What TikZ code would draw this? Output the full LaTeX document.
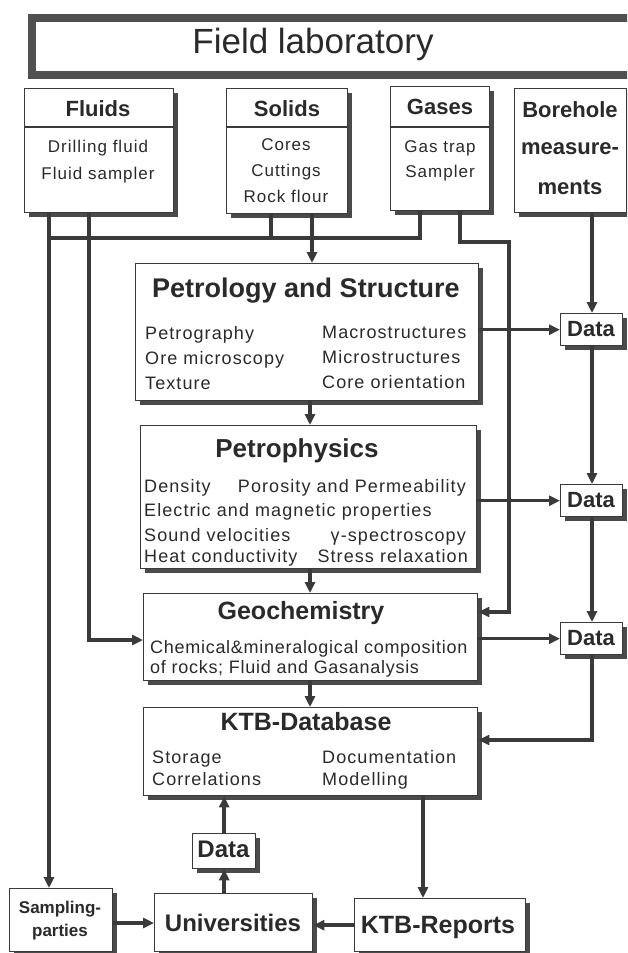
\documentclass[tikz,border=0pt]{standalone}
\usepackage{fontspec}
\setmainfont{Liberation Sans}
\newfontfamily\lsfont[LetterSpace=6]{Liberation Sans}
\newfontfamily\lsfontb[LetterSpace=4]{Liberation Sans}
\usetikzlibrary{arrows.meta,shadows,calc}
\definecolor{linec}{HTML}{3A3A3A}
\definecolor{textc}{HTML}{2A2A2A}
\definecolor{shadc}{HTML}{4A4A4A}
\definecolor{titlec}{HTML}{505050}
\begin{document}
\begin{tikzpicture}[x=1pt,y=-1pt,
  box/.style={draw=linec, line width=1.4pt, fill=white, rectangle, inner sep=0pt,
    anchor=north west, drop shadow={shadow xshift=4pt, shadow yshift=-4pt, fill=shadc, opacity=1}},
  conn/.style={draw=linec, line width=3.5pt},
  arr/.style={-{Triangle[length=11pt,width=10pt]}},
  hd/.style={font=\bfseries\fontsize{#1}{#1}\selectfont, text=textc, inner sep=0pt, anchor=base},
  itm/.style={font=\lsfont\fontsize{18}{20}\selectfont, text=textc, inner sep=0pt},
  itmb/.style={font=\lsfontb\fontsize{18}{20}\selectfont, text=textc, inner sep=0pt},
  itc/.style={font=\lsfont\fontsize{17}{20}\selectfont, text=textc, inner sep=0pt, anchor=base},
  divl/.style={draw=linec, line width=1.4pt}
]
\useasboundingbox (0,0) rectangle (627,953);
\clip (0,0) rectangle (627,953);
\fill[white] (0,0) rectangle (627,953);

% title
\node[draw=titlec, line width=8pt, fill=white, rectangle, anchor=north west, inner sep=0pt,
  minimum width=612pt, minimum height=57pt] (title) at (28,14) {};
\node[anchor=base, inner sep=0pt, text=textc, font=\fontsize{35}{40}\selectfont] (titletext) at (313,53) {Field laboratory};

% top boxes
\node[box, minimum width=149pt, minimum height=124pt] (fluids) at (24,88) {};
\node[box, minimum width=121pt, minimum height=125pt] (solids) at (226,88) {};
\node[box, minimum width=99pt, minimum height=124pt] (gases) at (390,86) {};
\node[box, minimum width=112pt, minimum height=124pt] (borehole) at (514,88) {};
\draw[divl] ($(fluids.north west)+(0,39)$) -- ($(fluids.north east)+(0,39)$);
\draw[divl] ($(solids.north west)+(0,39)$) -- ($(solids.north east)+(0,39)$);
\draw[divl] ($(gases.north west)+(0,41)$) -- ($(gases.north east)+(0,41)$);

\node[hd=22] (fluidsT) at (98,116) {Fluids};
\node[itc] (fl1) at (98,152) {Drilling fluid};
\node[itc] (fl2) at (98,179) {Fluid sampler};
\node[hd=22] (solidsT) at (287,116) {Solids};
\node[itc] (so1) at (286,150) {Cores};
\node[itc] (so2) at (286,176) {Cuttings};
\node[itc] (so3) at (286,202) {Rock flour};
\node[hd=22] (gasesT) at (440,114) {Gases};
\node[itc] (ga1) at (440,152) {Gas trap};
\node[itc] (ga2) at (440,177) {Sampler};
\node[hd=22] (bh1) at (570,117) {Borehole};
\node[hd=22] (bh2) at (570,154) {measure-};
\node[hd=22] (bh3) at (570,194) {ments};

% Petrology
\node[box, minimum width=343pt, minimum height=137pt] (petro) at (135,263) {};
\node[hd=27] (petroT) at (306,297) {Petrology and Structure};
\node[itm, anchor=base west] (p1) at (145,339) {Petrography};
\node[itm, anchor=base west] (p2) at (145,364) {Ore microscopy};
\node[itm, anchor=base west] (p3) at (145,389) {Texture};
\node[itm, anchor=base west] (p4) at (322,338) {Macrostructures};
\node[itm, anchor=base west] (p5) at (322,363) {Microstructures};
\node[itm, anchor=base west] (p6) at (322,388) {Core orientation};

% Petrophysics
\node[box, minimum width=336pt, minimum height=143pt] (phys) at (140,425) {};
\node[hd=26] (physT) at (297,457) {Petrophysics};
\node[itm, anchor=base west] (ph1) at (144,492) {Density};
\node[itm, anchor=base east] (ph2) at (466,492) {Porosity and Permeability};
\node[itm, anchor=base west] (ph3) at (144,516) {Electric and magnetic properties};
\node[itm, anchor=base west] (ph4) at (144,541) {Sound velocities};
\node[itm, anchor=base east] (ph5) at (466,541) {γ-spectroscopy};
\node[itm, anchor=base west] (ph6) at (144,562) {Heat conductivity};
\node[itm, anchor=base east] (ph7) at (468,562) {Stress relaxation};

% Geochemistry
\node[box, minimum width=334pt, minimum height=87pt] (geo) at (143,593) {};
\node[hd=25] (geoT) at (301,619) {Geochemistry};
\node[itmb, anchor=base west] (g1) at (150,653) {Chemical\&mineralogical composition};
\node[itmb, anchor=base west] (g2) at (150,673) {of rocks; Fluid and Gasanalysis};

% Database
\node[box, minimum width=334pt, minimum height=88pt] (db) at (143,707) {};
\node[hd=25] (dbT) at (306,730) {KTB-Database};
\node[itm, anchor=base west] (d1) at (152,763) {Storage};
\node[itm, anchor=base west] (d2) at (152,785) {Correlations};
\node[itm, anchor=base west] (d3) at (322,763) {Documentation};
\node[itm, anchor=base west] (d4) at (322,785) {Modelling};

% Data boxes
\node[box, minimum width=62pt, minimum height=32pt] (data1) at (560,313) {};
\node[hd=22] (data1T) at (591,336) {Data};
\node[box, minimum width=62pt, minimum height=32pt] (data2) at (560,484) {};
\node[hd=22] (data2T) at (591,507) {Data};
\node[box, minimum width=62pt, minimum height=32pt] (data3) at (560,622) {};
\node[hd=22] (data3T) at (591,645) {Data};
\node[box, minimum width=63pt, minimum height=35pt] (datau) at (192,833) {};
\node[hd=24] (datauT) at (223.5,857) {Data};

% bottom boxes
\node[box, minimum width=103pt, minimum height=63pt] (samp) at (9,888) {};
\node[hd=17] (samp1) at (60,913) {Sampling-};
\node[hd=17] (samp2) at (60,936) {parties};
\node[box, minimum width=158pt, minimum height=58pt] (univ) at (154,893) {};
\node[hd=24] (univT) at (233,931) {Universities};
\node[box, minimum width=171pt, minimum height=53pt] (rep) at (354,898) {};
\node[hd=25] (repT) at (438,933) {KTB-Reports};

% coordinates
\coordinate (xA) at (49,0);
\coordinate (xB) at (89,0);
\coordinate (xS1) at (271,0);
\coordinate (xS2) at (312,0);
\coordinate (xG1) at (420,0);
\coordinate (xG2) at (460,0);
\coordinate (xR) at (509,0);
\coordinate (xD) at (592,0);
\coordinate (xC) at (310,0);
\coordinate (xK) at (423,0);
\coordinate (yBus) at (0,238);
\coordinate (yG2) at (0,242);
\coordinate (yGeo) at (0,640);
\coordinate (yGeoR) at (0,612);
\coordinate (yDB) at (0,740);
\coordinate (ySU) at (0,923);

% connectors
\draw[conn,arr] (fluids.south -| xA) -- (samp.north -| xA);
\draw[conn,arr] (fluids.south -| xB) |- (geo.west |- yGeo);
\draw[conn,line join=miter] (gases.south -| xG1) -- (xG1 |- yBus) -- (xA |- yBus);
\draw[conn] (solids.south -| xS1) -- (xS1 |- yBus);
\draw[conn,arr] (solids.south -| xS2) -- (petro.north -| xS2);
\draw[conn,arr,line join=miter] (gases.south -| xG2) -- (xG2 |- yG2) -| (xR |- yGeoR) -- (geo.east |- yGeoR);
\draw[conn,arr] (borehole.south -| xD) -- (data1.north -| xD);
\draw[conn,arr] (petro.east |- data1) -- (data1.west);
\draw[conn,arr] (data1.south -| xD) -- (data2.north -| xD);
\draw[conn,arr] (phys.east |- data2) -- (data2.west);
\draw[conn,arr] (data2.south -| xD) -- (data3.north -| xD);
\draw[conn,arr] (geo.east |- data3) -- (data3.west);
\draw[conn,arr,line join=miter] (data3.south -| xD) |- (db.east |- yDB);
\draw[conn,arr] (petro.south -| xC) -- (phys.north -| xC);
\draw[conn,arr] (phys.south -| xC) -- (geo.north -| xC);
\draw[conn,arr] (geo.south -| xC) -- (db.north -| xC);
\draw[conn,arr] (db.south -| xK) -- (rep.north -| xK);
\draw[conn,arr] (rep.west) -- (univ.east |- rep.west);
\draw[conn,arr] (samp.east |- ySU) -- (univ.west |- ySU);
\draw[conn,arr] (univ.north -| datau.south) -- (datau.south);
\draw[conn,arr] (datau.north) -- (db.south -| datau.north);
\end{tikzpicture}
\end{document}
